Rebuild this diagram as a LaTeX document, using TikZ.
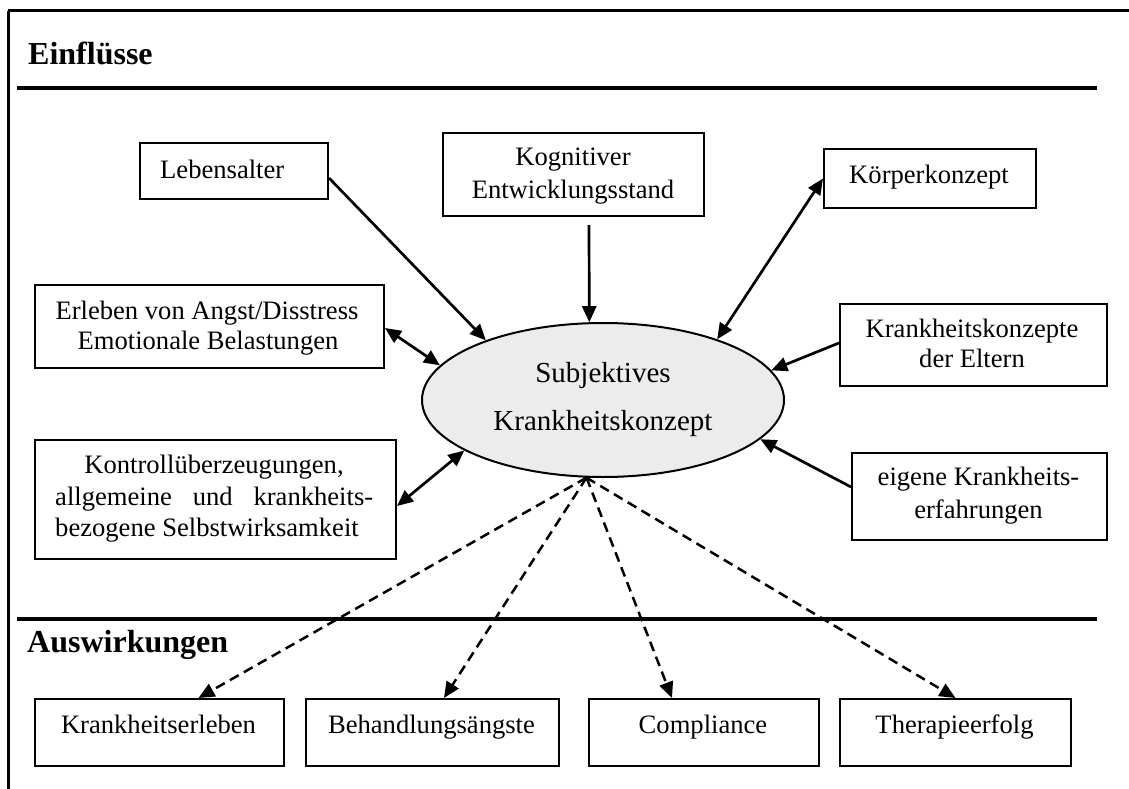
\documentclass[tikz,border=0pt]{standalone}
\usepackage{fontspec}
\setmainfont{Liberation Serif}
\usetikzlibrary{arrows.meta,shapes.geometric}
\begin{document}
\begin{tikzpicture}[x=1pt,y=-1pt,
  box/.style={draw, line width=2pt, inner sep=0pt, anchor=north west},
  txt/.style={inner sep=0pt, anchor=base, font=\fontsize{26.6}{32}\selectfont},
  bigtxt/.style={inner sep=0pt, anchor=base, font=\fontsize{29}{35}\selectfont},
  head/.style={inner sep=0pt, anchor=base west, font=\fontsize{32}{38}\selectfont\bfseries},
  rule/.style={line width=3.5pt},
  frame/.style={line width=3pt},
  tip/.style={-{Triangle[length=16pt,width=14pt]}},
  conn/.style={line width=2.7pt, tip},
  biconn/.style={line width=2.7pt, {Triangle[length=16pt,width=14pt]}-{Triangle[length=16pt,width=14pt]}},
  effect/.style={line width=2.5pt, dash pattern=on 10pt off 6pt, tip},
]
\useasboundingbox (0,0) rectangle (1129,789);

% outer frame and section rules
\draw[frame] (8,11) -- (1129,11);
\draw[frame] (8,11) -- (8,789);
\draw[rule] (17,88) -- (1097,88);
\draw[rule] (17,619) -- (1097,619);

\node[head] (hin) at (28,65) {Einflüsse};
\node[head] (hout) at (27,652) {Auswirkungen};

% central concept
\node[draw, line width=2pt, fill=gray!15, ellipse, inner sep=0pt,
      minimum width=362pt, minimum height=154pt] (ell) at (603,400) {};
\node[bigtxt] (ell1) at (603,382) {Subjektives};
\node[bigtxt] (ell2) at (603,430) {Krankheitskonzept};

% influencing factors
\node[box, minimum width=188pt, minimum height=56pt] (leb) at (139,142) {};
\node[txt, anchor=base west] (lebt) at (160,178) {Lebensalter};

\node[box, minimum width=261pt, minimum height=83pt] (kog) at (442,132) {};
\node[txt] (kogt1) at (573,165) {Kognitiver};
\node[txt] (kogt2) at (573,198) {Entwicklungsstand};

\node[box, minimum width=212pt, minimum height=59pt] (kor) at (823,148) {};
\node[txt] (kort) at (929,183) {Körperkonzept};

\node[box, minimum width=349pt, minimum height=83pt] (erl) at (34,284) {};
\node[txt] (erlt1) at (207,319) {Erleben von Angst/Disstress};
\node[txt] (erlt2) at (208,349) {Emotionale Belastungen};

\node[box, minimum width=361pt, minimum height=119pt] (kon) at (34,439) {};
\node[txt] (kont1) at (214,473) {Kontrollüberzeugungen,};
\node[txt, anchor=base west] (kont2) at (55,505) {\makebox[318pt][s]{allgemeine und krankheits-}};
\node[txt, anchor=base west] (kont3) at (55,536) {bezogene Selbstwirksamkeit};

\node[box, minimum width=267pt, minimum height=82pt] (elt) at (839,303) {};
\node[txt] (eltt1) at (972,337) {Krankheitskonzepte};
\node[txt] (eltt2) at (972,367) {der Eltern};

\node[box, minimum width=255pt, minimum height=87pt] (eig) at (851,452) {};
\node[txt] (eigt1) at (978.5,485) {eigene Krankheits-};
\node[txt] (eigt2) at (978.5,518) {erfahrungen};

% outcomes
\node[box, minimum width=249pt, minimum height=67pt] (ke) at (34,698) {};
\node[txt] (ket) at (158.5,733) {Krankheitserleben};
\node[box, minimum width=253pt, minimum height=67pt] (beh) at (305,698) {};
\node[txt] (beht) at (431.5,733) {Behandlungsängste};
\node[box, minimum width=230pt, minimum height=67pt] (com) at (588,698) {};
\node[txt] (comt) at (703,733) {Compliance};
\node[box, minimum width=231pt, minimum height=67pt] (the) at (839,698) {};
\node[txt] (thet) at (954.5,733) {Therapieerfolg};

% influences on the concept
\draw[conn] ([yshift=-7pt]leb.east) -- (ell.153.4);
\draw[conn] ([xshift=15.5pt,yshift=-8pt]kog.south) -- (ell.100.9);
\draw[biconn] (kor.west) -- (ell.28.6);
\draw[biconn] ([yshift=-1.5pt]erl.east) -- (ell.168.2);
\draw[biconn] ([yshift=-6.5pt]kon.east) -- (ell.200.3);
\draw[conn] ([yshift=2pt]elt.west) -- (ell.10.9);
\draw[conn] ([yshift=9.5pt]eig.west) -- (ell.346);

% effects of the concept
\coordinate (src) at (ell.258.3);
\draw[effect] (src) -- ([xshift=39pt]ke.north);
\draw[effect] (src) -- ([xshift=11.5pt]beh.north);
\draw[effect] (src) -- ([xshift=-32pt]com.north);
\draw[effect] (src) -- (the.north);
\end{tikzpicture}
\end{document}
